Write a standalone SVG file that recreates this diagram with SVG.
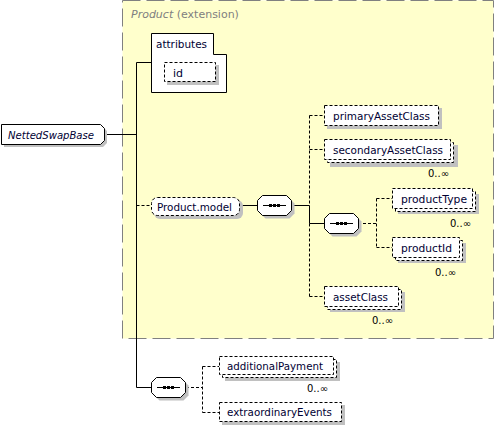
<svg xmlns="http://www.w3.org/2000/svg" width="496" height="428" viewBox="0 0 496 428">
<style>
text{font-family:"DejaVu Sans","Liberation Sans",sans-serif;font-size:11px;fill:#000033}
.occ{font-size:10px;fill:#000000;text-anchor:end}
.sh{fill:#c0c0c0;stroke:none}
.opt{fill:#ffffff;stroke:#000000;stroke-width:1;stroke-dasharray:3,2}
.req{fill:#ffffff;stroke:#000000;stroke-width:1}
.ln{fill:none;stroke:#000000;stroke-width:1}
.dl{fill:none;stroke:#000000;stroke-width:1;stroke-dasharray:3,2}
.dot{fill:#000000}
</style>
<defs>
<g id="seqicon">
<line x1="6" y1="10.5" x2="29" y2="10.5" stroke="#000" stroke-width="1"/>
<rect x="12" y="9" width="3" height="3" class="dot"/>
<rect x="16" y="9" width="3" height="3" class="dot"/>
<rect x="20" y="9" width="3" height="3" class="dot"/>
</g>
<polygon id="oct" points="5.5,0.5 29.5,0.5 34.5,5.5 34.5,15.5 29.5,20.5 5.5,20.5 0.5,15.5 0.5,5.5"/>
</defs>

<g id="product-extension">
<rect x="122.5" y="0.5" width="371" height="338" fill="#ffffcc" stroke="#808080" stroke-width="1" stroke-dasharray="18,6"/>
<text x="131" y="18" fill="#808080" style="fill:#808080"><tspan font-style="italic">Product</tspan> (extension)</text>
</g>

<g id="connectors">
<line class="ln" x1="104" y1="134.5" x2="136.5" y2="134.5"/>
<line class="ln" x1="136.5" y1="62.5" x2="136.5" y2="387.5"/>
<line class="ln" x1="136.5" y1="62.5" x2="151" y2="62.5"/>
<line class="dl" x1="136.5" y1="205.5" x2="151" y2="205.5"/>
<line class="ln" x1="136.5" y1="387.5" x2="151" y2="387.5"/>
<line class="ln" x1="240" y1="205.5" x2="257" y2="205.5"/>
<line class="ln" x1="292" y1="205.5" x2="309.5" y2="205.5"/>
<line class="dl" x1="309.5" y1="115.5" x2="309.5" y2="205.5"/>
<line class="ln" x1="309.5" y1="205.5" x2="309.5" y2="223.5"/>
<line class="dl" x1="309.5" y1="223.5" x2="309.5" y2="296.5"/>
<line class="dl" x1="309.5" y1="115.5" x2="324" y2="115.5"/>
<line class="dl" x1="309.5" y1="149.5" x2="324" y2="149.5"/>
<line class="ln" x1="309.5" y1="223.5" x2="324" y2="223.5"/>
<line class="dl" x1="309.5" y1="296.5" x2="324" y2="296.5"/>
<line class="dl" x1="358" y1="223.5" x2="376.5" y2="223.5"/>
<line class="dl" x1="376.5" y1="198.5" x2="376.5" y2="247.5"/>
<line class="dl" x1="376.5" y1="198.5" x2="392" y2="198.5"/>
<line class="dl" x1="376.5" y1="247.5" x2="392" y2="247.5"/>
<line class="dl" x1="186" y1="387.5" x2="202.5" y2="387.5"/>
<line class="dl" x1="202.5" y1="366.5" x2="202.5" y2="412.5"/>
<line class="dl" x1="202.5" y1="366.5" x2="219" y2="366.5"/>
<line class="dl" x1="202.5" y1="412.5" x2="219" y2="412.5"/>
</g>

<g id="NettedSwapBase">
<path class="sh" d="M4,127 H103 L107,131 V143 L103,147 H4 Z"/>
<path class="req" d="M1.5,124.5 H100.5 L104.5,128.5 V140.5 L100.5,144.5 H1.5 Z"/>
<text x="8" y="138.5" font-style="italic" textLength="86" lengthAdjust="spacingAndGlyphs">NettedSwapBase</text>
</g>

<g id="attributes">
<path class="req" d="M151.5,33.5 H213.5 V54.5 H226.5 V92.5 H151.5 Z"/>
<text x="156" y="48" textLength="51" lengthAdjust="spacingAndGlyphs">attributes</text>
</g>

<g id="id">
<rect class="sh" x="167" y="65" width="52" height="20"/>
<rect class="opt" x="164.5" y="62.5" width="51" height="19"/>
<text x="173" y="76.5">id</text>
</g>

<g id="Product.model">
<rect class="sh" x="154" y="200" width="89" height="19" rx="6"/>
<rect class="opt" x="151.5" y="197.5" width="88" height="18" rx="6"/>
<text x="157" y="210.5" textLength="75" lengthAdjust="spacingAndGlyphs">Product.model</text>
</g>

<g id="sequence1">
<use href="#oct" class="sh" x="260" y="198"/>
<use href="#oct" class="req" x="257" y="195"/>
<use href="#seqicon" x="257" y="195"/>
</g>

<g id="primaryAssetClass">
<rect class="sh" x="327" y="108" width="115" height="21"/>
<rect class="opt" x="324.5" y="105.5" width="114" height="20"/>
<text x="333" y="119.5" textLength="97" lengthAdjust="spacingAndGlyphs">primaryAssetClass</text>
</g>

<g id="secondaryAssetClass">
<rect class="sh" x="330" y="145" width="128" height="22"/>
<rect class="opt" x="327.5" y="142.5" width="126" height="20"/>
<rect class="opt" x="324.5" y="139.5" width="126" height="20"/>
<text x="333" y="153.5" textLength="110" lengthAdjust="spacingAndGlyphs">secondaryAssetClass</text>
<text class="occ" x="449" y="177">0..∞</text>
</g>

<g id="sequence2">
<use href="#oct" class="sh" x="327" y="216"/>
<use href="#oct" class="req" x="324" y="213"/>
<use href="#seqicon" x="324" y="213"/>
</g>

<g id="productType">
<rect class="sh" x="398" y="194" width="81" height="20"/>
<rect class="opt" x="395.5" y="191.5" width="80" height="20"/>
<rect class="opt" x="392.5" y="188.5" width="80" height="20"/>
<text x="401" y="202.5" textLength="66" lengthAdjust="spacingAndGlyphs">productType</text>
<text class="occ" x="471" y="227">0..∞</text>
</g>

<g id="productId">
<rect class="sh" x="398" y="243" width="68" height="20"/>
<rect class="opt" x="395.5" y="240.5" width="67" height="20"/>
<rect class="opt" x="392.5" y="237.5" width="67" height="20"/>
<text x="401" y="251.5" textLength="51" lengthAdjust="spacingAndGlyphs">productId</text>
<text class="occ" x="456" y="276">0..∞</text>
</g>

<g id="assetClass">
<rect class="sh" x="330" y="292" width="75" height="20"/>
<rect class="opt" x="327.5" y="289.5" width="74" height="20"/>
<rect class="opt" x="324.5" y="286.5" width="74" height="20"/>
<text x="333" y="300.5" textLength="55" lengthAdjust="spacingAndGlyphs">assetClass</text>
<text class="occ" x="393" y="324">0..∞</text>
</g>

<g id="sequence3">
<use href="#oct" class="sh" x="154" y="380"/>
<use href="#oct" class="req" x="151" y="377"/>
<use href="#seqicon" x="151" y="377"/>
</g>

<g id="additionalPayment">
<rect class="sh" x="225" y="362" width="115" height="19"/>
<rect class="opt" x="222.5" y="359.5" width="114" height="18"/>
<rect class="opt" x="219.5" y="356.5" width="114" height="18"/>
<text x="227" y="369.5" textLength="96" lengthAdjust="spacingAndGlyphs">additionalPayment</text>
<text class="occ" x="328" y="392">0..∞</text>
</g>

<g id="extraordinaryEvents">
<rect class="sh" x="222" y="405" width="123" height="20"/>
<rect class="opt" x="219.5" y="402.5" width="122" height="19"/>
<text x="227" y="416" textLength="105" lengthAdjust="spacingAndGlyphs">extraordinaryEvents</text>
</g>
</svg>
